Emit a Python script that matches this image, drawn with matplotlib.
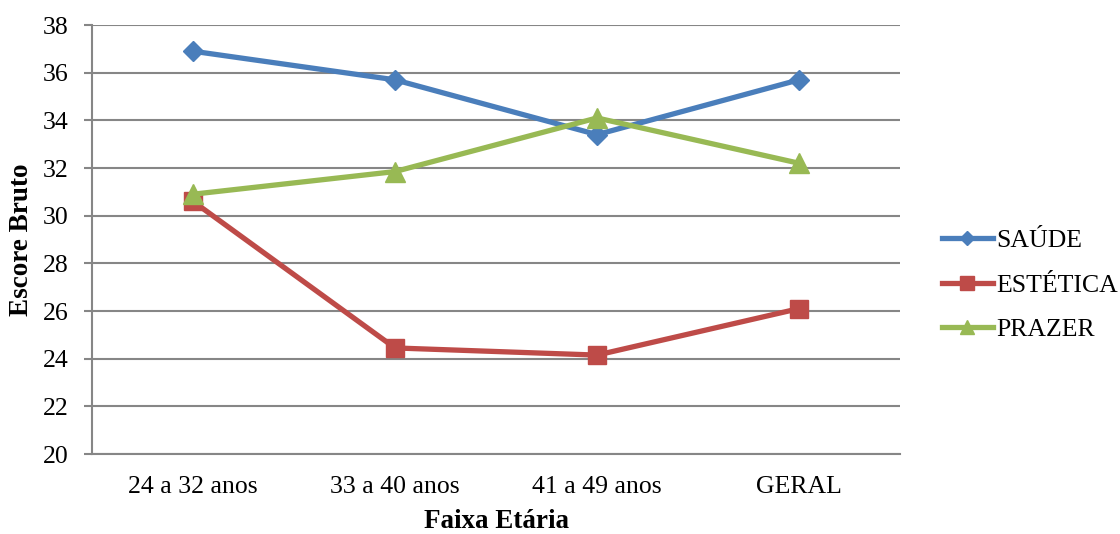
import matplotlib
matplotlib.use("Agg")
import matplotlib.pyplot as plt
from matplotlib.ticker import MultipleLocator

plt.rcParams['font.family'] = ['Liberation Serif', 'DejaVu Serif']

categories = ["24 a 32 anos", "33 a 40 anos", "41 a 49 anos", "GERAL"]
saude = [36.9, 35.7, 33.4, 35.7]
estetica = [30.6, 24.45, 24.15, 26.1]
prazer = [30.9, 31.85, 34.1, 32.2]
series_names = ["SAÚDE", "ESTÉTICA", "PRAZER"]

fig = plt.figure(figsize=(11.2, 5.34), dpi=100)
ax = fig.add_axes([92 / 1120, 80 / 534, 808 / 1120, 429 / 534])

x = [i + 0.5 for i in range(len(categories))]
grid_color = "#868686"

ax.plot(x, saude, color="#4A7EBB", lw=3.8, marker="D", ms=10, label=series_names[0], zorder=3)
ax.plot(x, estetica, color="#BE4B48", lw=3.8, marker="s", ms=13, label=series_names[1], zorder=3)
ax.plot(x, prazer, color="#98B954", lw=3.8, marker="^", ms=14, label=series_names[2], zorder=3)

ax.set_xlim(0, len(categories))
ax.set_ylim(20, 38)
ax.yaxis.set_major_locator(MultipleLocator(2))
ax.set_xticks(x)
ax.set_xticklabels(categories)
ax.tick_params(axis="x", length=0, pad=16, labelsize=18.5)
ax.tick_params(axis="y", length=5.8, width=1.5, color=grid_color, pad=11, labelsize=18.5)

ax.grid(axis="y", color=grid_color, lw=1.5, zorder=0)
for side in ["top", "right"]:
    ax.spines[side].set_visible(False)
for side in ["left", "bottom"]:
    ax.spines[side].set_color(grid_color)
    ax.spines[side].set_linewidth(1.5)

ax.set_ylabel("Escore Bruto", fontsize=19.5, fontweight="bold", va="center", ha="center")
ax.set_xlabel("Faixa Etária", fontsize=19.5, fontweight="bold", va="center", ha="center")
ax.yaxis.set_label_coords((22 - 92) / 808, 0.5)
ax.xaxis.set_label_coords(0.5, (12 - 80) / 429)

ax.legend(loc="center left", bbox_to_anchor=(942 / 1120, 0.466), bbox_transform=fig.transFigure,
          frameon=False, fontsize=18.5, handlelength=1.98, handletextpad=0.14,
          labelspacing=0.83, borderaxespad=0, borderpad=0, markerscale=0.75)

fig.savefig("out.png", dpi=100)
